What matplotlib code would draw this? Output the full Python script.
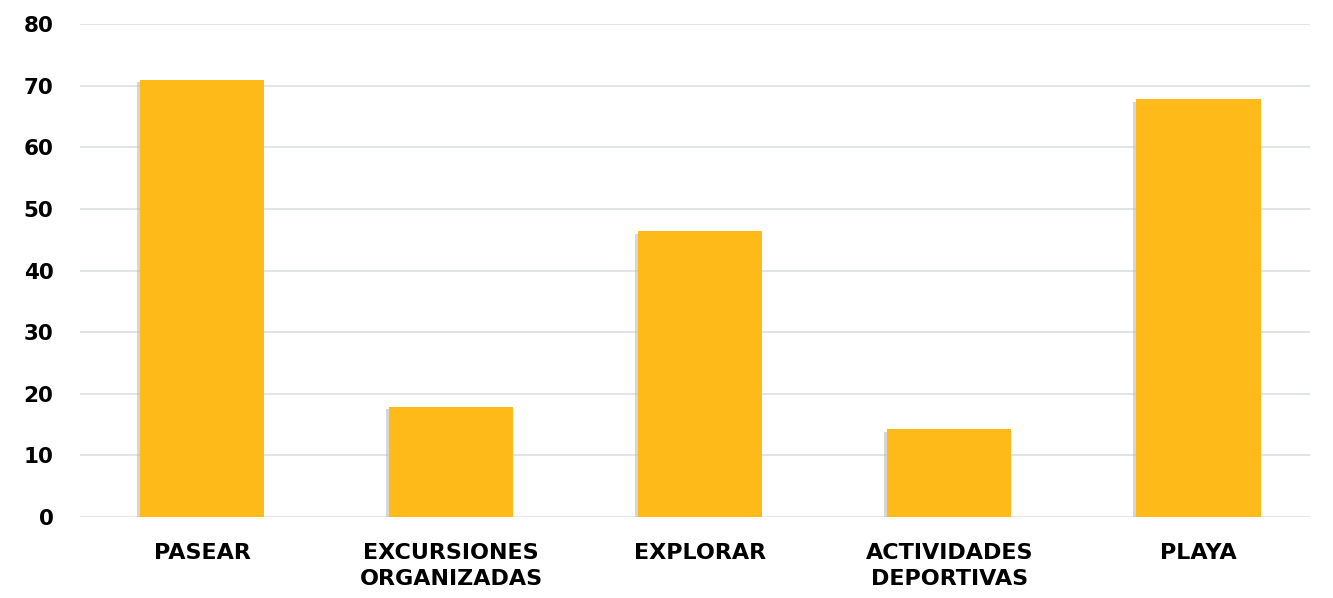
import matplotlib
matplotlib.use("Agg")
import matplotlib.pyplot as plt
import matplotlib.patheffects as pe
import numpy as np

categories = ["PASEAR", "EXCURSIONES\nORGANIZADAS", "EXPLORAR", "ACTIVIDADES\nDEPORTIVAS", "PLAYA"]
values = [71, 17.9, 46.4, 14.3, 67.9]

plt.rcParams['font.family'] = ['DejaVu Sans']

fig = plt.figure(figsize=(13.33, 5.98), dpi=100)
ax = fig.add_axes([0.060, 0.1355, 0.923, 0.8245])

x = np.arange(len(categories))
bars = ax.bar(x, values, width=0.5, color="#FDBA19", zorder=3)
for b in bars:
    b.set_path_effects([pe.SimplePatchShadow(offset=(-2, -2), shadow_rgbFace="#bbbbbb", alpha=0.6), pe.Normal()])

ax.set_ylim(0, 80.05)
ax.set_xlim(-0.49, 4.45)
ax.set_yticks(np.arange(0, 81, 10))
ax.set_xticks(x)
ax.set_xticklabels(categories, fontsize=16, fontweight="bold", linespacing=1.35)
ax.tick_params(axis="y", labelsize=15.5, length=0, pad=19)
ax.tick_params(axis="x", length=0, pad=19)
for lab in ax.get_yticklabels():
    lab.set_fontweight("bold")

ax.grid(axis="y", color="#DDE1E8", linewidth=1.3, zorder=0)
for s in ax.spines.values():
    s.set_visible(False)

fig.savefig("out.png", dpi=100)
